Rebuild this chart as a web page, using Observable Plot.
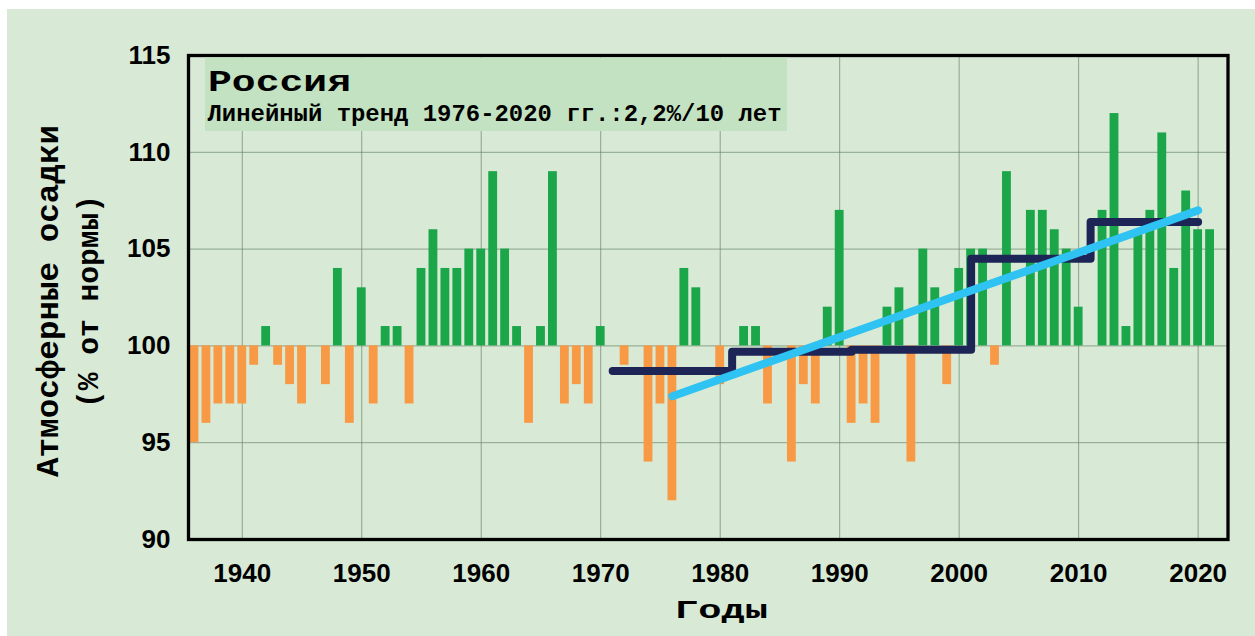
<!DOCTYPE html>
<html>
<head>
<meta charset="utf-8">
<script src="https://cdn.jsdelivr.net/npm/d3@7"></script>
<script src="https://cdn.jsdelivr.net/npm/@observablehq/plot@0.6"></script>
<style>
  body { margin: 0; background: #ffffff; }
  #wrap { position: relative; width: 1255px; height: 636px; overflow: hidden; background: #ffffff; }
  #bg { position: absolute; left: 7px; top: 9px; right: 0; bottom: 0; background: #d8ead5; }
  #chart { position: absolute; left: 0; top: 0; }
</style>
</head>
<body>
<div id="wrap"><div id="bg"></div><div id="chart"></div></div>
<script>
// ---- Data ----
const years = [
  1936,1937,1938,1939,1940,1941,1942,1943,1944,1945,
  1946,1947,1948,1949,1950,1951,1952,1953,1954,1955,
  1956,1957,1958,1959,1960,1961,1962,1963,1964,1965,
  1966,1967,1968,1969,1970,1971,1972,1973,1974,1975,
  1976,1977,1978,1979,1980,1981,1982,1983,1984,1985,
  1986,1987,1988,1989,1990,1991,1992,1993,1994,1995,
  1996,1997,1998,1999,2000,2001,2002,2003,2004,2005,
  2006,2007,2008,2009,2010,2011,2012,2013,2014,2015,
  2016,2017,2018,2019,2020,2021
];
const precip = [
  95,96,97,97,97,99,101,99,98,97,
  100,98,104,96,103,97,101,101,97,104,
  106,104,104,105,105,109,105,101,96,101,
  109,97,98,97,101,100,99,100,94,97,
  92,104,103,100,98,100,101,101,97,100,
  94,98,97,102,107,96,97,96,102,103,
  94,105,103,98,104,105,105,99,109,100,
  107,107,106,105,102,100,107,112,101,106,
  107,111,104,108,106,106
];
// decadal means (step line), last point closes the final decade
const decadeYears = [1971, 1981, 1991, 2001, 2011, 2020];
const decadeMeans = [98.7, 99.7, 99.8, 104.5, 106.4, 106.4];
// linear trend 1976-2020 endpoints
const trendYears = [1976, 2020];
const trendValues = [97.4, 107.0];

const xTicks = [1940, 1950, 1960, 1970, 1980, 1990, 2000, 2010, 2020];
const yTicks = [90, 95, 100, 105, 110, 115];

const titleText = "Россия";
const subtitleText = "Линейный тренд 1976-2020 гг.:2,2%/10 лет";
const yTitle1 = "Атмосферные осадки";
const yTitle2 = "(% от нормы)";
const xTitle = "Годы";

// ---- Colors ----
const GREEN = "#1ba64a";
const ORANGE = "#f89a45";
const NAVY = "#1d2557";
const BLUE = "#2ec3f2";
const GRID = "#5f7d62";
const BOX = "#c3e2c2";

const data = years.map((year, i) => ({year, value: precip[i]}));
const stepData = decadeYears.map((year, i) => ({year, value: decadeMeans[i]}));
const trendData = trendYears.map((year, i) => ({year, value: trendValues[i]}));

const W = 1255, H = 636;
const mL = 188, mR = 27.5, mT = 55, mB = 97;
const half = 0.37;

const chart = Plot.plot({
  width: W, height: H,
  marginLeft: mL, marginRight: mR, marginTop: mT, marginBottom: mB,
  style: {background: "transparent", overflow: "visible"},
  x: {domain: [1935.5, 2022.5]},
  y: {domain: [90, 115]},
  marks: [
    Plot.gridX(xTicks, {stroke: GRID, strokeOpacity: 0.65, strokeWidth: 1}),
    Plot.gridY(yTicks, {stroke: GRID, strokeOpacity: 0.65, strokeWidth: 1}),
    Plot.rectY(data.filter(d => d.value >= 100), {
      x1: d => d.year - half, x2: d => d.year + half, y1: 100, y2: "value", fill: GREEN
    }),
    Plot.rectY(data.filter(d => d.value < 100), {
      x1: d => d.year - half, x2: d => d.year + half, y1: 100, y2: "value", fill: ORANGE
    }),
    Plot.line(stepData, {
      x: "year", y: "value", curve: "step-after", stroke: NAVY, strokeWidth: 8,
      strokeLinecap: "round", strokeLinejoin: "round"
    }),
    Plot.line(trendData, {
      x: "year", y: "value", stroke: BLUE, strokeWidth: 8, strokeLinecap: "round"
    }),
    Plot.frame({stroke: "#000", strokeWidth: 3.3}),
    Plot.axisX(xTicks, {
      tickSize: 0, tickPadding: 24, tickFormat: d => String(d), label: null,
      fontSize: 26, fontWeight: "bold", fontFamily: "Liberation Sans, Arial, sans-serif", fill: "#000"
    }),
    Plot.axisY(yTicks, {
      tickSize: 0, tickPadding: 18, tickFormat: d => String(d), label: null,
      fontSize: 26, fontWeight: "bold", fontFamily: "Liberation Sans, Arial, sans-serif", fill: "#000"
    })
  ]
});

document.getElementById("chart").appendChild(chart);

// ---- Annotations ----
const svg = d3.select(chart);
const MONO = "'Liberation Mono', 'Courier New', monospace";

const g = svg.append("g");
g.append("rect")
  .attr("x", 205).attr("y", 57.5).attr("width", 582).attr("height", 73.5)
  .attr("fill", BOX);

g.append("text")
  .text(titleText)
  .attr("x", 208).attr("y", 91)
  .attr("text-anchor", "start")
  .attr("textLength", 143).attr("lengthAdjust", "spacingAndGlyphs")
  .style("font-family", MONO).style("font-weight", "bold").style("font-size", "30px")
  .attr("fill", "#000");

g.append("text")
  .text(subtitleText)
  .attr("x", 207.5).attr("y", 120.5)
  .attr("text-anchor", "start")
  .attr("textLength", 574).attr("lengthAdjust", "spacingAndGlyphs")
  .style("font-family", MONO).style("font-weight", "bold").style("font-size", "24px")
  .attr("fill", "#000");

g.append("text")
  .text(yTitle1)
  .attr("transform", "translate(58,301) rotate(-90)")
  .attr("text-anchor", "middle")
  .attr("textLength", 352).attr("lengthAdjust", "spacingAndGlyphs")
  .style("font-family", MONO).style("font-weight", "bold").style("font-size", "31px")
  .attr("fill", "#000");

g.append("text")
  .text(yTitle2)
  .attr("transform", "translate(98,301.5) rotate(-90)")
  .attr("text-anchor", "middle")
  .attr("textLength", 213).attr("lengthAdjust", "spacingAndGlyphs")
  .style("font-family", MONO).style("font-weight", "bold").style("font-size", "30px")
  .attr("fill", "#000");

g.append("text")
  .text(xTitle)
  .attr("x", 721.5).attr("y", 618)
  .attr("text-anchor", "middle")
  .attr("textLength", 93).attr("lengthAdjust", "spacingAndGlyphs")
  .style("font-family", MONO).style("font-weight", "bold").style("font-size", "26px")
  .attr("fill", "#000");
</script>
</body>
</html>
